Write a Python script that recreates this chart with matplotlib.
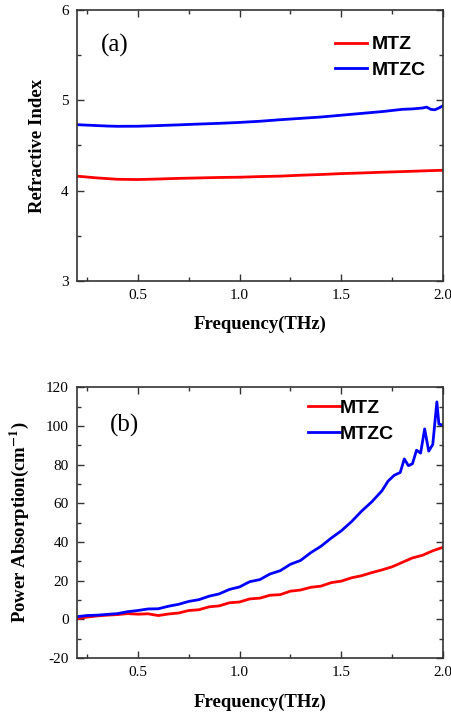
import matplotlib
matplotlib.use("Agg")
import matplotlib.pyplot as plt
from matplotlib.ticker import MultipleLocator

# data
# (a) refractive index
freq_n_mtz = [0.2, 0.25, 0.3, 0.4, 0.5, 0.6, 0.7, 0.8, 0.9, 1.0, 1.1, 1.2, 1.3,
              1.4, 1.5, 1.6, 1.7, 1.8, 1.9, 2.0]
n_mtz = [4.16, 4.15, 4.14, 4.125, 4.122, 4.128, 4.135, 4.14, 4.145, 4.148,
         4.155, 4.16, 4.17, 4.178, 4.188, 4.195, 4.203, 4.21, 4.218, 4.225]

freq_n_mtzc = [0.2, 0.25, 0.3, 0.35, 0.4, 0.5, 0.6, 0.7, 0.8, 0.9, 1.0, 1.1,
               1.2, 1.3, 1.4, 1.5, 1.6, 1.7, 1.8, 1.85, 1.9, 1.92, 1.94, 1.96,
               1.98, 2.0]
n_mtzc = [4.73, 4.725, 4.72, 4.715, 4.712, 4.713, 4.72, 4.728, 4.737, 4.745,
          4.755, 4.768, 4.785, 4.80, 4.815, 4.835, 4.855, 4.875, 4.9, 4.905,
          4.915, 4.925, 4.9, 4.895, 4.915, 4.94]

# (b) power absorption
freq_a_mtz = [0.2, 0.25, 0.3, 0.35, 0.4, 0.45, 0.5, 0.55, 0.6, 0.65, 0.7, 0.75,
              0.8, 0.85, 0.9, 0.95, 1.0, 1.05, 1.1, 1.15, 1.2, 1.25, 1.3, 1.35,
              1.4, 1.45, 1.5, 1.55, 1.6, 1.65, 1.7, 1.75, 1.8, 1.85, 1.9, 1.95,
              2.0]
a_mtz = [0.3, 1.2, 1.8, 2.2, 2.5, 3.0, 2.7, 2.9, 2.0, 2.8, 3.3, 4.6, 5.0, 6.5,
         7.0, 8.6, 9.0, 10.6, 11.0, 12.5, 12.8, 14.6, 15.2, 16.6, 17.2, 19.0,
         19.8, 21.5, 22.6, 24.2, 25.6, 27.2, 29.5, 31.8, 33.2, 35.5, 37.3]

freq_a_mtzc = [0.2, 0.25, 0.3, 0.35, 0.4, 0.45, 0.5, 0.55, 0.6, 0.65, 0.7, 0.75,
               0.8, 0.85, 0.9, 0.95, 1.0, 1.05, 1.1, 1.15, 1.2, 1.25, 1.3, 1.35,
               1.4, 1.45, 1.5, 1.55, 1.6, 1.65, 1.7, 1.73, 1.76, 1.79, 1.81,
               1.83, 1.85, 1.87, 1.89, 1.91, 1.93, 1.95, 1.97, 1.98, 2.0]
a_mtzc = [1.4, 2.0, 2.2, 2.6, 3.0, 4.0, 4.6, 5.4, 5.5, 6.8, 7.8, 9.3, 10.2,
          12.0, 13.2, 15.5, 16.8, 19.5, 20.6, 23.5, 25.2, 28.5, 30.5, 34.5,
          37.8, 42.0, 45.8, 50.5, 56.0, 60.8, 66.5, 71.5, 74.5, 76.0, 83.0,
          79.5, 80.5, 87.5, 86.0, 98.5, 87.0, 90.5, 112.5, 101.0, 100.5]

plt.rcParams['font.family'] = 'Liberation Serif'
plt.rcParams['mathtext.fontset'] = 'stix'
plt.rcParams['axes.unicode_minus'] = False

fig = plt.figure(figsize=(4.52, 7.2), dpi=100)
ax1 = fig.add_axes([0.170, 0.610, 0.810, 0.376])
ax2 = fig.add_axes([0.170, 0.086, 0.810, 0.376])

red = '#ff0000'
blue = '#0000ff'
lw = 2.0


def style(ax):
    ax.set_xlim(0.2, 2.0)
    ax.xaxis.set_major_locator(MultipleLocator(0.5))
    ax.xaxis.set_minor_locator(MultipleLocator(0.25))
    ax.tick_params(which='both', direction='in', top=True, right=True,
                   labelsize=11, width=1, color='#333333')
    ax.tick_params(which='major', length=5, pad=6)
    ax.tick_params(which='minor', length=3)
    for s in ax.spines.values():
        s.set_linewidth(1.2)
        s.set_color('#333333')
    ax.set_xlabel('Frequency(THz)', fontsize=13.5, fontweight='bold')
    ax.xaxis.set_label_coords(0.5, -0.13)


# (a)
ax1.plot(freq_n_mtz, n_mtz, color=red, lw=lw, label='MTZ')
ax1.plot(freq_n_mtzc, n_mtzc, color=blue, lw=lw, label='MTZC')
style(ax1)
ax1.set_ylim(3, 6)
ax1.yaxis.set_major_locator(MultipleLocator(1))
ax1.yaxis.set_minor_locator(MultipleLocator(0.5))
ax1.set_ylabel('Refractive Index', fontsize=13.5, fontweight='bold')
ax1.yaxis.set_label_coords(-0.085, 0.5)
ax1.text(0.065, 0.87, '(a)', transform=ax1.transAxes, fontsize=18,
         va='center', ha='left')
ax1.legend(loc='upper left', bbox_to_anchor=(0.705, 0.905), frameon=False,
           prop={'family': 'Liberation Sans', 'weight': 'bold', 'size': 14},
           handlelength=1.65, handletextpad=0.25, labelspacing=0.4,
           borderpad=0, borderaxespad=0)

# (b)
ax2.plot(freq_a_mtz, a_mtz, color=red, lw=lw, label='MTZ')
ax2.plot(freq_a_mtzc, a_mtzc, color=blue, lw=lw, label='MTZC')
style(ax2)
ax2.set_ylim(-20, 120)
ax2.yaxis.set_major_locator(MultipleLocator(20))
ax2.yaxis.set_minor_locator(MultipleLocator(10))
ax2.set_ylabel(r'Power Absorption(cm$^{\mathbf{-1}}$)', fontsize=13.5,
               fontweight='bold')
ax2.yaxis.set_label_coords(-0.126, 0.5)
ax2.text(0.09, 0.86, '(b)', transform=ax2.transAxes, fontsize=18,
         va='center', ha='left')
ax2.legend(loc='upper left', bbox_to_anchor=(0.631, 0.955), frameon=False,
           prop={'family': 'Liberation Sans', 'weight': 'bold', 'size': 14},
           handlelength=1.65, handletextpad=0.0, labelspacing=0.4,
           borderpad=0, borderaxespad=0)

fig.savefig('out.png', dpi=100)
